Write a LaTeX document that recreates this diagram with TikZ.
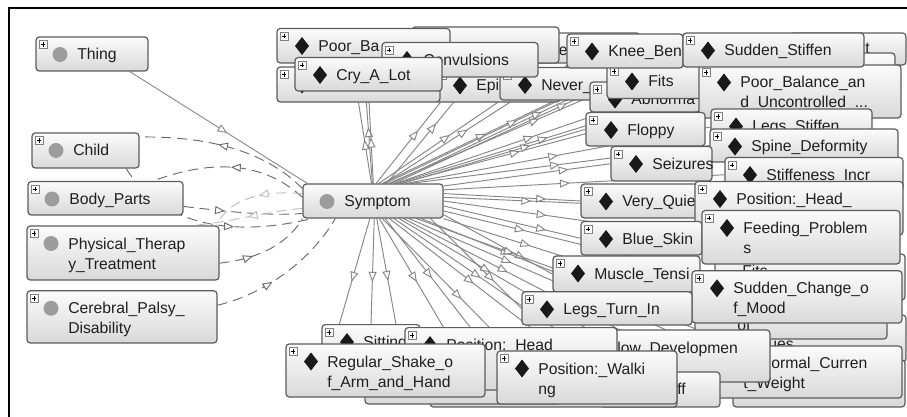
\documentclass[tikz,border=0pt]{standalone}
\usepackage{fontspec}
\setmainfont{Liberation Sans}
\usetikzlibrary{fit,calc,arrows.meta,decorations.markings}
\pgfdeclarelayer{bg}
\pgfsetlayers{bg,main}
\definecolor{edgec}{HTML}{858585}
\definecolor{dashc}{HTML}{6A6A6A}
\definecolor{lightc}{HTML}{BDBDBD}
\definecolor{boxline}{HTML}{5C5C5C}
\definecolor{clsc}{HTML}{9C9C9C}
\tikzset{
 obox/.style={draw=boxline, line width=0.9pt, rounded corners=2.5pt, inner sep=0pt, top color=gray!3, bottom color=gray!30},
 lbl/.style={anchor=base west, inner sep=0pt, font=\fontsize{11.8}{14}\selectfont, text=black!88},
 plusb/.style={draw=gray, fill=white, line width=0.5pt},
 plusl/.style={draw=black, line width=0.7pt},
 rel/.style={draw=edgec, line width=0.7pt, postaction={decorate},
   decoration={markings, mark=at position #1 with {\arrow{Triangle[open, length=7.5pt, width=6pt, fill=white]}}}},
 rel/.default=0.6,
 drel/.style={rel=#1, draw=dashc, dash pattern=on 7.5pt off 4.5pt},
 drel/.default=0.5,
 lrel/.style={rel=#1, draw=lightc, dash pattern=on 7.5pt off 4.5pt},
 lrel/.default=0.5,
}
\newcommand\mkplus[2]{\draw[plusb] (#1+3,#2+3.5) rectangle (#1+11,#2+11.5);
 \draw[plusl] (#1+4.6,#2+7.5) -- (#1+9.4,#2+7.5) (#1+7,#2+5.1) -- (#1+7,#2+9.9);}
\newcommand\mkdia[2]{\fill[black!90] (#1,#2-9) -- (#1+7,#2) -- (#1,#2+9) -- (#1-7,#2) -- cycle;}
\newcommand\mkcirc[2]{\fill[clsc] (#1,#2) circle[radius=5.6pt];}
\newcommand\mkbox[5]{\node[obox, fit={(#2,#3)(#4,#5)}] (#1) {};}
\newcommand\mkind[6]{\mkbox{#1}{#2}{#3}{#4}{#5}\mkplus{#2}{#3}\mkdia{#2+25}{#3+17.5}\node[lbl] (#1t) at (#2+41,#3+23) {#6};}
\newcommand\mkindd[7]{\mkbox{#1}{#2}{#3}{#4}{#5}\mkplus{#2}{#3}\mkdia{#2+25}{#3+17.5}\node[lbl] (#1t) at (#2+41,#3+23) {#6};\node[lbl] (#1u) at (#2+41,#3+43) {#7};}
\newcommand\mkcls[6]{\mkbox{#1}{#2}{#3}{#4}{#5}\mkplus{#2}{#3}\mkcirc{#2+24}{#3+17.5}\node[lbl] (#1t) at (#2+41,#3+23) {#6};}
\newcommand\mkclss[7]{\mkbox{#1}{#2}{#3}{#4}{#5}\mkplus{#2}{#3}\mkcirc{#2+24}{#3+17.5}\node[lbl] (#1t) at (#2+41,#3+23) {#6};\node[lbl] (#1u) at (#2+41,#3+43) {#7};}
\begin{document}
\begin{tikzpicture}[x=0.75pt,y=-0.75pt]
\useasboundingbox (0,0) rectangle (907,417);
% ---------- top cluster
\mkbox{bB}{500}{33}{640}{63}
\node[lbl] (bBt) at (558.5,55.6) {e};
\mkbox{bA}{412}{27}{559}{63}
\mkind{epi}{435}{68}{560}{102}{Epi}
\mkind{never}{500}{67.5}{610}{100}{Never\_}
\mkind{abn}{590}{82}{700}{112}{Abnorma}
\mkind{fitsA}{607}{64}{720}{98.5}{Fits}
\mkind{knee}{567}{34}{683}{68}{Knee\_Ben}
\mkbox{bC}{790}{33}{906}{65}
\node[lbl] (bCt) at (865,54) {t};
\mkbox{bD}{800}{53}{895}{100}
\mkindd{poorbal}{699}{65}{901}{118}{Poor\_Balance\_an}{d\_Uncontrolled\_...}
\mkind{stiff}{683}{33}{864}{67}{Sudden\_Stiffen}
\mkind{poorba}{277}{28.5}{450}{63}{Poor\_Ba}
\mkind{hidA}{277}{67}{440}{102}{}
\mkind{conv}{382}{42.5}{538}{77}{Convulsions}
\mkind{cry}{295}{57.5}{442}{91}{Cry\_A\_Lot}
% ---------- right column
\mkind{legsst}{711}{109}{872}{145}{Legs\_Stiffen}
\mkind{floppy}{586}{112.5}{705}{146}{Floppy}
\mkind{spine}{710}{129}{898}{162}{Spine\_Deformity}
\mkind{seiz}{611}{146.5}{712}{181}{Seizures}
\mkind{stiffi}{725}{157.5}{903}{192}{Stiffeness\_Incr}
\mkind{veryq}{581}{184}{700}{218}{Very\_Quie}
\mkind{posh}{695}{181.5}{903}{235}{Position:\_Head\_}
\mkind{blue}{581}{221.5}{702}{255}{Blue\_Skin}
\mkbox{fitsB}{715}{254}{905}{300}
\node[lbl] (fitsBt) at (742,276.5) {Fits};
\mkindd{feed}{702}{210.5}{900}{264}{Feeding\_Problem}{s}
\mkind{muscle}{553}{256}{700}{292}{Muscle\_Tensi}
\mkbox{ues}{720}{315}{906}{362}
\node[lbl] (uest) at (768,349) {ues};
\mkbox{ofb}{695}{300}{887}{339}
\node[lbl] (ofbt) at (737,330.5) {of};
\mkindd{sudden}{692}{270.8}{902}{323}{Sudden\_Change\_o}{f\_Mood}
\mkind{legsturn}{522}{291.8}{692}{325}{Legs\_Turn\_In}
% ---------- bottom cluster
\mkbox{curB}{733}{360}{905}{407}
\mkbox{curren}{702}{346}{902}{398}
\node[lbl] (currenA) at (771,368) {ormal\_Curren};
\node[lbl] (currenB) at (743,388.7) {t\_Weight};
\mkbox{devel}{560}{330}{770}{382}
\node[lbl] (develt) at (617,353.5) {low\_Developmen};
\mkbox{ffb}{600}{372}{720}{407}
\node[lbl] (ffbt) at (677,394.5) {ff};
\mkbox{hbB}{430}{380}{677}{407}
\mkbox{hbA}{365}{360}{560}{404}
\mkind{sitting}{322}{324.6}{420}{385}{Sitting}
\mkind{posh2}{405}{327.6}{617}{390}{Position:\_Head}
\mkindd{regular}{286}{344}{485}{397}{Regular\_Shake\_o}{f\_Arm\_and\_Hand}
\mkindd{walki}{497}{351}{677}{404}{Position:\_Walki}{ng}
% ---------- left column
\mkcls{thing}{36}{37}{148}{71}{Thing}
\mkcls{child}{32}{133}{139}{168}{Child}
\mkcls{body}{28}{181.5}{183}{215}{Body\_Parts}
\mkclss{phys}{27}{226}{219}{280}{Physical\_Therap}{y\_Treatment}
\mkclss{cere}{27}{290.8}{217}{343}{Cerebral\_Palsy\_}{Disability}
% ---------- centre
\mkbox{sym}{303}{184}{443}{218}
\mkcirc{327}{201.5}
\node[lbl] (symt) at (344,207) {Symptom};
% ---------- frame
\draw[line width=1.5pt] (8.5,417) -- (8.5,8.5) -- (907,8.5);
% ---------- connectors
\begin{pgfonlayer}{bg}
\fill[white] (0,0) rectangle (907,417);
\draw[rel=0.55, draw=black!45] (thing.-25) -- (sym.165);
\draw[drel=0.55] (sym.170) .. controls (265,150) and (205,136) .. (child.14);
\draw[drel=0.5] (sym.177) .. controls (265,163) and (215,158) .. (body.20);
\draw[lrel=0.45] (sym.174) .. controls (260,190) and (228,200) .. ($(phys.north east)+(-3,0)$);
\draw[drel=0.35] (body.-6) .. controls (230,212) and (270,216) .. (sym.190);
\draw[drel=0.62] (child.-24) .. controls (165,230) and (240,236) .. (sym.196);
\draw[lrel=0.5] (sym.186) .. controls (262,212) and (232,222) .. ($(phys.north)+(70,0)$);
\draw[drel=0.35] (phys.-6) .. controls (265,258) and (290,240) .. (sym.south west);
\draw[drel=0.4] (cere.7) .. controls (262,295) and (310,262) .. (sym.205);
% fan
\draw[rel=0.47] (sym.92) -- (poorba.south);
\draw[rel=0.54] (sym.95) -- (hidA.south);
\draw[rel=0.5] (sym.89) -- (cry.south);
\draw[rel=0.5] (sym.80) -- (conv.south);
\draw[rel=0.6] (sym.72) -- (epi.south);
\draw[rel=0.6] (sym.62) -- (never.south);
\draw[rel=0.45] (sym.58) -- (bB.south);
\draw[rel=0.55] (sym.55) -- (knee.south);
\draw[rel=0.5] (sym.52) -- (bA.south);
\draw[rel=0.75] (sym.48) -- (abn.west);
\draw[rel=0.7] (sym.44) -- (fitsA.west);
\draw[rel=0.6] (sym.40) -- (stiff.west);
\draw[rel=0.35] (sym.38) -- (bC.west);
\draw[rel=0.5] (sym.36) -- (poorbal.west);
\draw[rel=0.3] (sym.33) -- (bD.west);
\draw[rel=0.7] (sym.31) -- (floppy.west);
\draw[rel=0.5] (sym.28) -- (legsst.west);
\draw[rel=0.5] (sym.25) -- (spine.west);
\draw[rel=0.75] (sym.12) -- (seiz.west);
\draw[rel=0.45] (sym.9) -- (stiffi.west);
\draw[rel=0.75] (sym.6) -- (veryq.west);
\draw[rel=0.35] (sym.3) -- (posh.west);
\draw[rel=0.4] (sym.0) -- (feed.west);
\draw[rel=0.75] (sym.-4) -- (blue.west);
\draw[rel=0.3] (sym.-8) -- (fitsB.west);
\draw[rel=0.75] (sym.-11) -- (muscle.west);
\draw[rel=0.35] (sym.-14) -- (sudden.west);
\draw[rel=0.7] (sym.-17) -- (legsturn.west);
\draw[rel=0.3] (sym.-20) -- (ues.west);
\draw[rel=0.35] (sym.-22) -- (ofb.west);
\draw[rel=0.4] (sym.-26) -- (devel.north);
\draw[rel=0.35] (sym.-30) -- (curren.west);
\draw[rel=0.35] (sym.-34) -- (ffb.north);
\draw[rel=0.45] (sym.-40) -- (walki.north);
\draw[rel=0.6] (sym.-47) -- ($(posh2.north)+(19,0)$);
\draw[rel=0.55] (sym.-55) -- ($(posh2.north)+(-41,0)$);
\draw[rel=0.5] (sym.-62) -- ($(hbB.north)+(-13,0)$);
\draw[rel=0.45] (sym.-70) -- (hbA.north);
\draw[rel=0.5] (sym.-78) -- ($(regular.north)+(14,0)$);
\draw[rel=0.6] (sym.-86) -- (sitting.north);
\draw[rel=0.6] (sym.-100) -- ($(sitting.north west)+(18,0)$);
\end{pgfonlayer}
\end{tikzpicture}
\end{document}
